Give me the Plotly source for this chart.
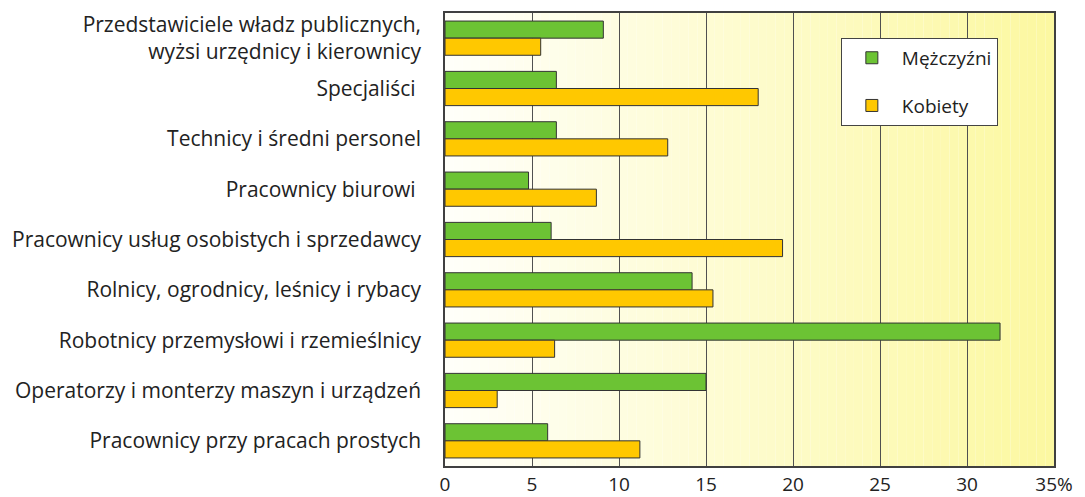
import plotly.graph_objects as go

categories = [
    "Przedstawiciele władz publicznych,<br>wyżsi urzędnicy i kierownicy",
    "Specjaliści ",
    "Technicy i średni personel",
    "Pracownicy biurowi ",
    "Pracownicy usług osobistych i sprzedawcy",
    "Rolnicy, ogrodnicy, leśnicy i rybacy",
    "Robotnicy przemysłowi i rzemieślnicy",
    "Operatorzy i monterzy maszyn i urządzeń",
    "Pracownicy przy pracach prostych",
]
mezczyzni = [9.1, 6.4, 6.4, 4.8, 6.1, 14.2, 31.9, 15.0, 5.9]
kobiety = [5.5, 18.0, 12.8, 8.7, 19.4, 15.4, 6.3, 3.0, 11.2]
tick_vals = [0, 5, 10, 15, 20, 25, 30, 35]
tick_text = ["0", "5", "10", "15", "20", "25", "30", "35%"]

FONT = "Open Sans"
fig = go.Figure()
fig.add_trace(go.Bar(y=categories, x=mezczyzni, orientation="h", name="Mężczyźni",
                     legendgroup="m",
                     marker=dict(color="#6cc334", line=dict(color="#333333", width=1))))
fig.add_trace(go.Bar(y=categories, x=kobiety, orientation="h", name="Kobiety",
                     legendgroup="k",
                     marker=dict(color="#ffc800", line=dict(color="#333333", width=1))))

# gradient background
n = 70
x0, x1 = 0, 35
shapes = []
for i in range(n):
    t = (i + 0.5) / n
    r = round(255 + (252 - 255) * t)
    g = round(255 + (248 - 255) * t)
    b = round(250 + (160 - 250) * t)
    shapes.append(dict(type="rect", xref="x", yref="paper",
                       x0=x0 + (x1 - x0) * i / n, x1=x0 + (x1 - x0) * (i + 1) / n,
                       y0=0, y1=1, fillcolor=f"rgb({r},{g},{b})",
                       line=dict(width=0), layer="below"))

fig.update_layout(
    width=1077, height=489,
    margin=dict(l=437, r=31, t=5, b=31),
    paper_bgcolor="white", plot_bgcolor="white",
    barmode="group", bargap=0.32, bargroupgap=0,
    font=dict(family=FONT, size=21, color="#222222"),
    shapes=shapes,
    showlegend=True,
    legend=dict(x=0.65, y=0.945, xanchor="left", yanchor="top",
                bgcolor="white", bordercolor="#444444", borderwidth=1,
                font=dict(size=19), tracegroupgap=20, itemwidth=50,
                traceorder="grouped"),
    xaxis=dict(range=[0, 35], tickvals=tick_vals, ticktext=tick_text,
               showgrid=True, gridcolor="#505050", gridwidth=1,
               showline=True, linecolor="#404040", linewidth=1.5, mirror=True,
               zeroline=False, ticks="", ticklabelstandoff=0,
               tickfont=dict(size=19), automargin=False),
    yaxis=dict(autorange="reversed", showgrid=False, showline=True,
               linecolor="#404040", linewidth=1.5, mirror=True,
               ticks="", ticklabelstandoff=18, automargin=False),
)
fig.write_html("out.html")
